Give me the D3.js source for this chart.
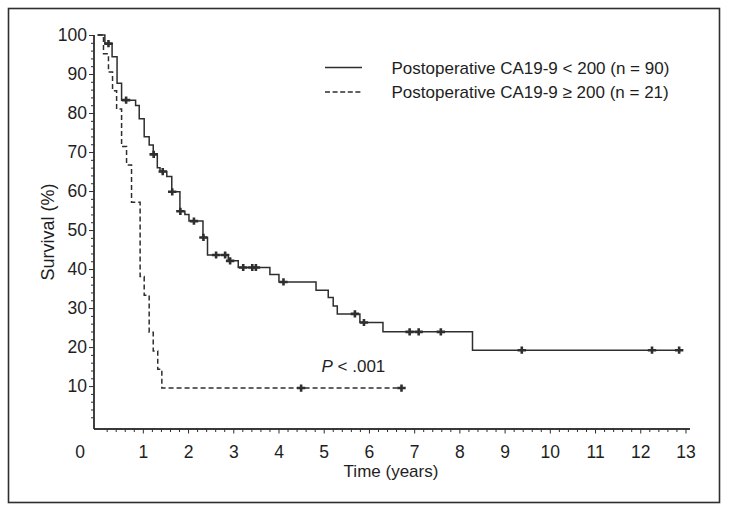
<!DOCTYPE html>
<html>
<head>
<meta charset="utf-8">
<script src="https://cdn.jsdelivr.net/npm/d3@7"></script>
<style>
  html, body { margin: 0; padding: 0; background: #fff; }
  svg { display: block; font-family: "Liberation Sans", Arial, Helvetica, sans-serif; }
</style>
</head>
<body>
<svg id="chart" width="729" height="511"></svg>
<script>
// ---- Data ----
const seriesNames = ["Postoperative CA19-9 < 200 (n = 90)", "Postoperative CA19-9 \u2265 200 (n = 21)"];

// Low CA19-9 group: step times (years) and survival (%) after each step
const lowTimes = [0, 0.16, 0.32, 0.43, 0.53, 0.84, 0.92, 1.03, 1.14, 1.23, 1.32, 1.38, 1.53, 1.64, 1.82, 1.93, 2.02, 2.33, 2.43, 2.89, 3.11, 3.81, 4.01, 4.83, 5.10, 5.21, 5.30, 5.80, 6.31, 8.29, 12.86];
const lowSurv  = [100, 97.8, 94.4, 87.6, 83.3, 81.9, 78.5, 73.9, 71.8, 69.4, 66.0, 65.0, 63.7, 59.8, 54.8, 54.0, 52.3, 48.1, 43.6, 42.1, 40.4, 38.6, 36.7, 34.6, 32.7, 30.5, 28.5, 26.3, 23.9, 19.2, 19.2];
const lowCensored = [0.24, 0.63, 1.24, 1.44, 1.65, 1.83, 2.13, 2.34, 2.62, 2.82, 2.93, 3.22, 3.42, 3.50, 4.11, 5.69, 5.89, 6.90, 7.10, 7.59, 9.38, 12.26, 12.86];

// High CA19-9 group
const highTimes = [0, 0.13, 0.24, 0.33, 0.42, 0.53, 0.64, 0.75, 0.94, 1.03, 1.14, 1.23, 1.33, 1.42, 6.72];
const highSurv  = [100, 95.2, 90.5, 85.7, 81.0, 71.4, 66.7, 57.1, 38.1, 33.3, 23.8, 19.0, 14.3, 9.5, 9.5];
const highCensored = [4.5, 6.72];

const xTickValues = [1, 2, 3, 4, 5, 6, 7, 8, 9, 10, 11, 12, 13];
const yTickValues = [10, 20, 30, 40, 50, 60, 70, 80, 90, 100];
const pText = ["P", " < .001"];

// ---- Drawing ----
const ink = "#2e2e2e";
const txt = "#1e1e1e";
const svg = d3.select("#chart");
svg.append("rect").attr("width", 729).attr("height", 511).attr("fill", "#fff");
svg.append("rect").attr("x", 8.5).attr("y", 8.5).attr("width", 711).attr("height", 494)
  .attr("fill", "none").attr("stroke", ink).attr("stroke-width", 1.6);

const x = d3.scaleLinear().domain([-0.08, 13.1]).range([94, 690]);
const y = d3.scaleLinear().domain([-1, 100]).range([429, 35]);

const fontSize = 17.5;

// Minor ticks
const xMinor = d3.range(0, 13.1, 0.2).filter(v => Math.abs(v - Math.round(v)) > 1e-6);
const yMinor = d3.range(0, 100, 2).filter(v => v % 10 !== 0);

const gx = svg.append("g").attr("transform", `translate(0,${y(-1)})`);
gx.append("g").call(d3.axisBottom(x).tickValues(xMinor).tickSize(3).tickSizeOuter(0).tickFormat(""));
gx.append("g").call(d3.axisBottom(x).tickValues(xTickValues).tickSize(4.5).tickSizeOuter(0).tickPadding(12.5))
  .selectAll("text").attr("font-size", fontSize).attr("fill", txt).attr("font-family", "Liberation Sans, Arial, sans-serif");
gx.selectAll("path.domain").attr("stroke", ink).attr("stroke-width", 1.4);
gx.selectAll("line").attr("stroke", ink).attr("stroke-width", 1);

const gy = svg.append("g").attr("transform", `translate(${x(-0.08)},0)`);
gy.append("g").call(d3.axisLeft(y).tickValues(yMinor).tickSize(3).tickSizeOuter(0).tickFormat(""));
gy.append("g").call(d3.axisLeft(y).tickValues(yTickValues).tickSize(5).tickSizeOuter(0).tickPadding(2))
  .selectAll("text").attr("font-size", fontSize).attr("fill", txt).attr("font-family", "Liberation Sans, Arial, sans-serif");
gy.selectAll("path.domain").attr("stroke", ink).attr("stroke-width", 1.4);
gy.selectAll("line").attr("stroke", ink).attr("stroke-width", 1);
gx.selectAll("path.domain").attr("d", `M${x(-0.08)},0H${x(13.1)}`);
gy.selectAll("path.domain").attr("d", `M0,${y(-1)}V${y(100)}`);

// origin label "0"
svg.append("text").attr("x", x(0) - 17.5).attr("y", 457.5).attr("text-anchor", "middle")
  .attr("font-size", fontSize).attr("fill", txt).text("0");

// Axis titles
svg.append("text").attr("x", 391).attr("y", 477).attr("text-anchor", "middle")
  .attr("font-size", 17).attr("fill", txt).text("Time (years)");
svg.append("text").attr("transform", "translate(54,232) rotate(-90)").attr("text-anchor", "middle")
  .attr("font-size", 18).attr("fill", txt).text("Survival (%)");

// Curves
const line = d3.line().x(d => x(d[0])).y(d => y(d[1])).curve(d3.curveStepAfter);
const low = d3.zip(lowTimes, lowSurv);
const high = d3.zip(highTimes, highSurv);

svg.append("path").datum(high).attr("d", line).attr("fill", "none")
  .attr("stroke", ink).attr("stroke-width", 1.5).attr("stroke-dasharray", "5,3");
svg.append("path").datum(low).attr("d", line).attr("fill", "none")
  .attr("stroke", ink).attr("stroke-width", 1.5);

function survAt(times, surv, t) {
  const i = d3.bisectRight(times, t) - 1;
  return surv[Math.max(0, i)];
}
function drawCensors(times, surv, cens) {
  svg.append("g").selectAll("path").data(cens).join("path")
    .attr("d", t => {
      const cx = x(t), cy = y(survAt(times, surv, t));
      return `M${cx - 4.2},${cy}H${cx + 4.2}M${cx},${cy - 3.6}V${cy + 3.6}`;
    })
    .attr("stroke", ink).attr("stroke-width", 2.6).attr("fill", "none");
}
drawCensors(lowTimes, lowSurv, lowCensored);
drawCensors(highTimes, highSurv, highCensored);

// Legend
const legend = svg.append("g");
const legendY = [67.5, 92];
seriesNames.forEach((name, i) => {
  legend.append("line").attr("x1", 325).attr("x2", 362).attr("y1", legendY[i]).attr("y2", legendY[i])
    .attr("stroke", ink).attr("stroke-width", 1.3).attr("stroke-dasharray", i === 1 ? "5,2.6" : null);
  legend.append("text").attr("x", 391.5).attr("y", legendY[i] + 6.3)
    .attr("font-size", 17).attr("fill", txt).text(name);
});

// P value
const pt = svg.append("text").attr("x", 321.5).attr("y", 371.5).attr("font-size", 17).attr("fill", txt);
pt.append("tspan").attr("font-style", "italic").text(pText[0]);
pt.append("tspan").text(pText[1]);
</script>
</body>
</html>
